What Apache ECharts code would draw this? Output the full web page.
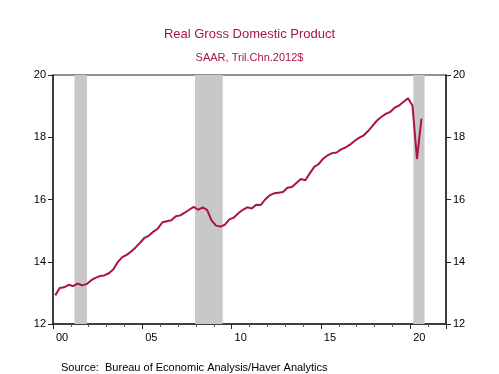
<!DOCTYPE html>
<html>
<head>
<meta charset="utf-8">
<script src="https://cdn.jsdelivr.net/npm/echarts@6/dist/echarts.min.js"></script>
<style>
html,body{margin:0;padding:0;background:#fff;}
#c{width:499px;height:374px;}
</style>
</head>
<body>
<div id="c"></div>
<script>
// Real GDP, SAAR, trillions of chained 2012 dollars, quarterly from 2000Q1
const startYear = 2000;
const gdp = [
  12.92, 13.16, 13.18, 13.26,
  13.22, 13.30, 13.24, 13.28,
  13.40, 13.48, 13.54, 13.56,
  13.63, 13.75, 13.99, 14.15,
  14.22, 14.33, 14.46, 14.61,
  14.77, 14.84, 14.97, 15.07,
  15.27, 15.30, 15.33, 15.46,
  15.49, 15.58, 15.67, 15.76,
  15.67, 15.75, 15.67, 15.33,
  15.16, 15.13, 15.19, 15.36,
  15.42, 15.56, 15.67, 15.75,
  15.71, 15.83, 15.82, 16.00,
  16.13, 16.20, 16.22, 16.24,
  16.38, 16.40, 16.53, 16.66,
  16.62, 16.84, 17.05, 17.14,
  17.31, 17.42, 17.49, 17.51,
  17.61, 17.67, 17.76, 17.88,
  17.98, 18.05, 18.19, 18.36,
  18.53, 18.65, 18.75, 18.81,
  18.95, 19.02, 19.14, 19.25,
  19.01, 17.30, 18.60
];
// Recession shading (fractional years)
const recessions = [[2001.2, 2001.9], [2007.95, 2009.5], [2020.17, 2020.8]];
const yTicks = [12, 14, 16, 18, 20];
const xTickYears = [2000, 2005, 2010, 2015, 2020];

const lineData = gdp.map((v, i) => [startYear + (i + 0.5) / 4, v]);

const chart = echarts.init(document.getElementById('c'), null, {renderer: 'canvas'});
const axisColor = '#222';
const font = 'Liberation Sans, Arial, sans-serif';
chart.setOption({
  animation: false,
  backgroundColor: '#fff',
  title: [
    {text: 'Real Gross Domestic Product', left: 'center', top: 23,
     textStyle: {fontFamily: font, fontSize: 13, fontWeight: 'normal', color: '#a8163f'}},
    {text: 'SAAR, Tril.Chn.2012$', left: 'center', top: 47,
     textStyle: {fontFamily: font, fontSize: 11, fontWeight: 'normal', color: '#a8163f'}},
    {text: 'Source:  Bureau of Economic Analysis/Haver Analytics', left: 56, top: 357,
     textStyle: {fontFamily: font, fontSize: 11, fontWeight: 'normal', color: '#000'}}
  ],
  grid: {left: 53, right: 53, top: 75, bottom: 50, show: true, borderColor: axisColor, borderWidth: 1},
  xAxis: {
    type: 'value', min: 2000, max: 2022, interval: 5,
    axisLine: {show: true, onZero: false, lineStyle: {color: axisColor, width: 1.5}},
    axisTick: {show: true, length: 5, lineStyle: {color: axisColor}},
    minorTick: {show: true, splitNumber: 5, length: 3, lineStyle: {color: '#555'}},
    splitLine: {show: false},
    axisLabel: {
      fontFamily: font, fontSize: 11, color: '#000', margin: 8, padding: [0, 0, 0, 18],
      showMaxLabel: false,
      formatter: v => xTickYears.includes(v) ? String(v % 100).padStart(2, '0') : ''
    }
  },
  yAxis: [
    {type: 'value', min: 12, max: 20, interval: 2, position: 'left',
     axisLine: {show: true, lineStyle: {color: axisColor, width: 1.5}},
     axisTick: {show: true, length: 5, lineStyle: {color: axisColor}},
     splitLine: {show: false},
     axisLabel: {fontFamily: font, fontSize: 11, color: '#000', margin: 7,
       formatter: v => yTicks.includes(v) ? String(v) : ''}},
    {type: 'value', min: 12, max: 20, interval: 2, position: 'right',
     axisLine: {show: true, lineStyle: {color: axisColor, width: 1.5}},
     axisTick: {show: true, length: 5, lineStyle: {color: axisColor}},
     splitLine: {show: false},
     axisLabel: {fontFamily: font, fontSize: 11, color: '#000', margin: 7,
       formatter: v => yTicks.includes(v) ? String(v) : ''}}
  ],
  series: [{
    type: 'line', data: lineData, yAxisIndex: 0, showSymbol: false, smooth: false,
    lineStyle: {color: '#a8163f', width: 2},
    z: 5,
    markArea: {
      silent: true,
      itemStyle: {color: '#c8c8c8'},
      data: recessions.map(r => [{xAxis: r[0]}, {xAxis: r[1]}])
    }
  }]
});
</script>
</body>
</html>
